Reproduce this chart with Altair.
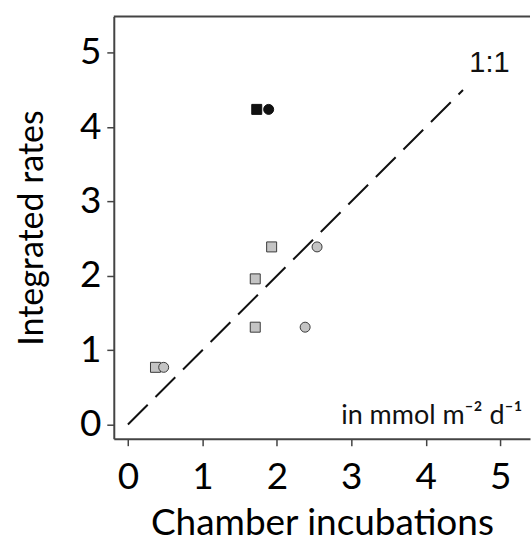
import altair as alt
import pandas as pd

# Data
x_vals = [1.73, 1.89, 1.93, 1.71, 1.71, 0.37, 2.54, 2.38, 0.48]
y_vals = [4.24, 4.24, 2.39, 1.96, 1.31, 0.77, 2.39, 1.31, 0.77]
shapes = ["square", "circle", "square", "square", "square", "square", "circle", "circle", "circle"]
groups = ["black", "black", "gray", "gray", "gray", "gray", "gray", "gray", "gray"]

line_x = [0, 4.5]
line_y = [0, 4.5]

X_MIN, X_MAX = -0.19, 5.40
Y_MIN, Y_MAX = -0.19, 5.49
ticks = [0, 1, 2, 3, 4, 5]

df = pd.DataFrame({"x": x_vals, "y": y_vals, "shape": shapes, "group": groups})
line_df = pd.DataFrame({"x": line_x, "y": line_y})

FONT = "Lato"

xscale = alt.Scale(domain=[X_MIN, X_MAX], nice=False, zero=False)
yscale = alt.Scale(domain=[Y_MIN, Y_MAX], nice=False, zero=False)

points = alt.Chart(df).mark_point(filled=True, size=100, strokeWidth=1, opacity=1).encode(
    x=alt.X("x:Q", scale=xscale, title="Chamber incubations",
            axis=alt.Axis(values=ticks, format="d")),
    y=alt.Y("y:Q", scale=yscale, title="Integrated rates",
            axis=alt.Axis(values=ticks, format="d")),
    shape=alt.Shape("shape:N", scale=alt.Scale(domain=["square", "circle"], range=["square", "circle"]), legend=None),
    fill=alt.Fill("group:N", scale=alt.Scale(domain=["black", "gray"], range=["#111111", "#c4c4c4"]), legend=None),
    stroke=alt.Stroke("group:N", scale=alt.Scale(domain=["black", "gray"], range=["#111111", "#3a3a3a"]), legend=None),
)

line = alt.Chart(line_df).mark_line(color="#111111", strokeWidth=2, strokeDash=[28, 11]).encode(
    x=alt.X("x:Q", scale=xscale), y=alt.Y("y:Q", scale=yscale)
)

top_border = alt.Chart(pd.DataFrame({"a": [0]})).mark_rule(color="#444444", strokeWidth=2).encode(
    x=alt.datum(X_MIN), x2=alt.datum(X_MAX), y=alt.datum(Y_MAX)
)

label_11 = alt.Chart(pd.DataFrame({"x": [4.855], "y": [4.74], "t": ["1:1"]})).mark_text(
    font="Liberation Sans", fontSize=29, align="center", baseline="alphabetic", color="#111111"
).encode(x=alt.X("x:Q", scale=xscale), y=alt.Y("y:Q", scale=yscale), text="t:N")

label_units = alt.Chart(pd.DataFrame({"x": [5.30], "y": [0.013], "t": ["in mmol m\u207b\u00b2 d\u207b\u00b9"]})).mark_text(
    font="Lato, Noto Sans", fontSize=27, align="right", baseline="alphabetic", color="#111111"
).encode(x=alt.X("x:Q", scale=xscale), y=alt.Y("y:Q", scale=yscale), text="t:N")

chart = alt.layer(line, points, top_border, label_11, label_units).properties(
    width=417, height=423,
    padding={"left": 15, "top": 15, "right": 0, "bottom": 0},
).configure_view(stroke=None).configure_axis(
    grid=False,
    domainColor="#444444", domainWidth=2,
    tickColor="#444444", tickWidth=1.5, tickSize=7,
    labelFont=FONT, labelFontSize=37, labelColor="#000000", labelPadding=6,
    titleFont=FONT, titleFontSize=34, titleFontWeight="normal", titleColor="#000000",
).configure_axisX(labelPadding=14, titlePadding=10, titleFontSize=37).configure_axisY(titlePadding=30)

chart.save("out.html", embed_options={"renderer": "svg", "actions": False})
